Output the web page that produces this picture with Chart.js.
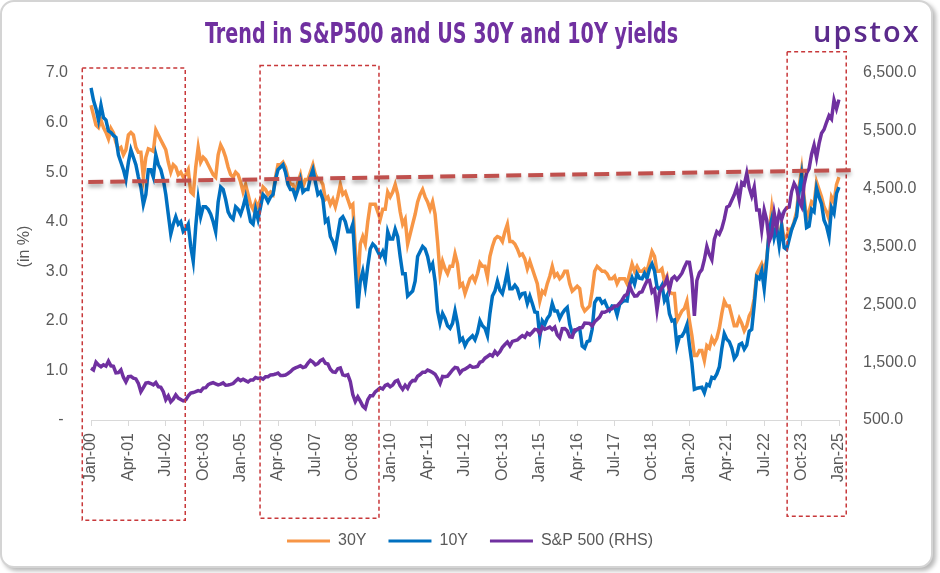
<!DOCTYPE html>
<html>
<head>
<meta charset="utf-8">
<script src="https://cdn.jsdelivr.net/npm/chart.js@4.4.1/dist/chart.umd.min.js"></script>
<style>
html,body{margin:0;padding:0;background:#ffffff;}
#wrap{position:relative;width:940px;height:573px;overflow:hidden;background:#fff;}
#frame{position:absolute;left:0;top:0;width:929px;height:564px;border:2px solid #d4d4d4;border-radius:14px;box-shadow:3px 3px 4px rgba(0,0,0,0.28);background:#fff;}
#c{position:absolute;left:0;top:0;}
#title{position:absolute;left:0;top:20px;width:883px;text-align:center;white-space:nowrap;}
#title span{display:inline-block;transform-origin:50% 50%;font-family:"Liberation Sans Narrow","DejaVu Sans Condensed","DejaVu Sans",sans-serif;font-weight:bold;font-size:27.5px;line-height:27.5px;color:#7030A0;}
#logo{position:absolute;left:813px;top:11px;font-family:"Open Sans","Lato",sans-serif;font-weight:600;font-size:29px;letter-spacing:2px;color:#5B2A8C;white-space:nowrap;}
</style>
</head>
<body>
<div id="wrap">
  <div id="frame"></div>
  <canvas id="c" width="940" height="573"></canvas>
  <div id="title"><span id="titleText">Trend in S&amp;P500 and US 30Y and 10Y yields</span></div>
  <div id="logo">upstox</div>
</div>
<script>
// ---- categories (monthly, Jan-2000 .. Jan-2025) ----
const monthNames = ['Jan','Feb','Mar','Apr','May','Jun','Jul','Aug','Sep','Oct','Nov','Dec'];
const startYear = 2000, endYear = 2025;
const categories = [];
for (let y = startYear; y <= endYear; y++) {
  for (let m = 0; m < 12; m++) {
    if (y === endYear && m > 0) break;
    categories.push(monthNames[m] + '-' + String(y).slice(2));
  }
}

// ---- tick labels shown on x axis ----
const tickLabels = ['Jan-00','Apr-01','Jul-02','Oct-03','Jan-05','Apr-06','Jul-07','Oct-08','Jan-10','Apr-11',
  'Jul-12','Oct-13','Jan-15','Apr-16','Jul-17','Oct-18','Jan-20','Apr-21','Jul-22','Oct-23','Jan-25'];

// ---- series: US 30Y yield (%) ----
const y30 = [
 6.35,6.15,5.95,5.90,6.05,5.90,5.80,5.67,5.88,5.79,5.60,5.46,
 5.50,5.35,5.45,5.75,5.80,5.75,5.50,5.40,5.40,4.90,5.30,5.47,
 5.45,5.42,5.85,5.75,5.65,5.55,5.45,5.20,5.00,5.15,5.10,4.95,
 5.00,4.90,4.95,5.05,4.60,4.55,5.10,5.50,5.20,5.30,5.25,5.15,
 5.05,4.95,4.90,5.35,5.55,5.45,5.30,5.10,4.95,4.90,5.00,4.95,
 4.80,4.60,4.75,4.55,4.35,4.25,4.40,4.30,4.45,4.70,4.65,4.55,
 4.60,4.55,4.90,5.15,5.15,5.20,5.10,4.90,4.75,4.75,4.60,4.80,
 4.95,4.70,4.85,4.85,5.00,5.15,4.95,4.85,4.85,4.75,4.45,4.50,
 4.35,4.45,4.30,4.50,4.75,4.55,4.60,4.45,4.30,4.35,3.45,2.70,
 3.55,3.70,3.55,4.00,4.35,4.35,4.35,4.20,4.05,4.25,4.25,4.60,
 4.50,4.60,4.75,4.55,4.20,3.95,4.05,3.55,3.75,3.95,4.15,4.40,
 4.55,4.65,4.50,4.40,4.25,4.40,4.15,3.60,2.95,3.20,3.05,2.95,
 3.10,3.10,3.35,3.15,2.70,2.75,2.55,2.70,2.85,2.90,2.80,2.95,
 3.17,3.10,3.10,2.88,3.30,3.50,3.65,3.70,3.68,3.60,3.80,3.95,
 3.60,3.60,3.55,3.45,3.32,3.35,3.25,3.05,3.20,3.05,2.90,2.75,
 2.40,2.60,2.55,2.75,2.90,3.10,2.90,2.95,2.85,2.90,3.00,3.00,
 2.75,2.60,2.65,2.70,2.65,2.30,2.20,2.25,2.30,2.60,3.00,3.10,
 3.05,3.00,3.00,2.95,2.85,2.85,2.90,2.75,2.85,2.85,2.85,2.75,
 2.95,3.15,3.00,3.10,3.00,3.00,3.05,3.00,3.20,3.40,3.30,3.00,
 3.00,3.05,2.80,2.90,2.58,2.55,2.55,2.00,2.10,2.20,2.25,2.40,
 2.00,1.70,1.30,1.30,1.40,1.40,1.20,1.50,1.45,1.65,1.55,1.65,
 1.85,2.15,2.40,2.30,2.30,2.10,1.90,1.90,2.05,1.95,1.80,1.90,
 2.10,2.20,2.45,2.95,3.05,3.15,3.00,3.25,3.80,4.25,3.75,3.95,
 3.65,3.95,3.65,3.70,3.85,3.85,4.00,4.20,4.70,5.05,4.50,4.05,
 4.20,4.40,4.35,4.80,4.65,4.50,4.30,4.20,4.05,4.50,4.40,4.75,
 4.90
];

// ---- series: US 10Y yield (%) ----
const y10 = [
 6.70,6.45,6.28,6.05,6.35,6.10,6.05,5.83,5.80,5.74,5.70,5.35,
 5.20,5.05,4.85,5.20,5.45,5.30,5.15,4.90,4.70,4.35,4.55,5.05,
 5.05,4.90,5.35,5.15,5.05,4.85,4.55,4.15,3.75,3.95,4.10,3.95,
 4.00,3.80,3.85,3.95,3.50,3.20,3.90,4.45,4.10,4.30,4.30,4.25,
 4.15,4.00,3.80,4.40,4.70,4.65,4.45,4.20,4.10,4.05,4.30,4.25,
 4.15,4.30,4.50,4.25,4.00,3.95,4.25,4.05,4.30,4.55,4.50,4.40,
 4.50,4.55,4.85,5.05,5.10,5.15,5.00,4.75,4.65,4.65,4.50,4.65,
 4.85,4.60,4.65,4.65,4.90,5.05,4.80,4.55,4.60,4.45,4.00,4.05,
 3.70,3.60,3.45,3.75,4.05,4.10,4.00,3.80,3.80,3.95,3.10,2.25,
 2.80,3.00,2.70,3.10,3.45,3.55,3.50,3.40,3.30,3.40,3.25,3.80,
 3.65,3.65,3.85,3.70,3.30,2.95,2.95,2.50,2.55,2.60,2.80,3.30,
 3.40,3.50,3.45,3.30,3.05,3.15,2.80,2.20,1.95,2.15,2.05,1.90,
 1.85,1.95,2.20,1.95,1.60,1.65,1.50,1.60,1.65,1.70,1.62,1.76,
 2.00,1.90,1.85,1.70,2.15,2.50,2.60,2.80,2.62,2.55,2.75,3.00,
 2.65,2.65,2.72,2.65,2.48,2.55,2.56,2.35,2.50,2.35,2.18,2.17,
 1.68,2.00,1.93,2.05,2.12,2.35,2.20,2.20,2.05,2.15,2.22,2.27,
 1.93,1.75,1.78,1.83,1.85,1.49,1.45,1.58,1.60,1.83,2.37,2.45,
 2.45,2.36,2.40,2.28,2.21,2.30,2.29,2.12,2.33,2.38,2.41,2.40,
 2.72,2.87,2.74,2.95,2.86,2.85,2.96,2.86,3.05,3.15,3.01,2.69,
 2.63,2.72,2.41,2.51,2.14,2.00,2.02,1.50,1.68,1.69,1.78,1.92,
 1.51,1.15,0.62,0.64,0.65,0.66,0.55,0.72,0.69,0.86,0.84,0.93,
 1.07,1.44,1.74,1.63,1.58,1.45,1.24,1.31,1.52,1.55,1.43,1.51,
 1.79,1.83,2.32,2.89,2.85,3.01,2.65,3.19,3.83,4.05,3.68,3.88,
 3.52,3.92,3.48,3.44,3.64,3.84,3.97,4.11,4.59,4.93,4.37,3.88,
 3.91,4.25,4.20,4.68,4.50,4.36,4.03,3.91,3.70,4.28,4.17,4.57,
 4.70
];

// ---- series: S&P 500 index level (RHS) ----
const spx = [
 1394,1366,1499,1452,1421,1455,1431,1518,1437,1429,1315,1320,
 1366,1240,1160,1249,1256,1224,1211,1134,990,1060,1139,1148,
 1130,1107,1147,1077,1067,990,850,916,815,860,936,880,
 856,830,848,917,964,975,990,1008,996,1051,1058,1112,
 1131,1145,1126,1107,1121,1141,1102,1104,1115,1130,1174,1212,
 1181,1204,1181,1157,1192,1191,1234,1220,1229,1207,1249,1248,
 1280,1281,1295,1311,1270,1270,1277,1304,1336,1378,1401,1418,
 1438,1407,1421,1482,1531,1503,1455,1474,1527,1549,1481,1468,
 1379,1331,1323,1386,1400,1280,1267,1283,1165,940,820,900,
 826,740,700,850,919,919,987,1021,1057,1036,1096,1115,
 1074,1104,1169,1187,1089,1031,1102,1049,1141,1183,1181,1258,
 1286,1327,1326,1364,1345,1321,1292,1219,1131,1253,1247,1258,
 1312,1366,1408,1398,1310,1362,1379,1407,1441,1412,1416,1426,
 1498,1515,1569,1598,1631,1606,1686,1633,1682,1757,1806,1848,
 1783,1859,1872,1884,1924,1960,1931,2003,1972,2018,2068,2059,
 1995,2105,2068,2086,2107,2063,2104,1972,1920,2079,2080,2044,
 1940,1932,2060,2065,2097,2099,2174,2171,2168,2126,2199,2239,
 2279,2364,2363,2384,2412,2423,2470,2472,2519,2575,2648,2674,
 2824,2714,2641,2648,2705,2718,2816,2902,2914,2712,2760,2400,
 2704,2784,2834,2946,2752,2942,2980,2926,2977,3038,3141,3231,
 3226,2954,2300,2912,3044,3100,3271,3500,3363,3270,3622,3756,
 3714,3811,3973,4181,4204,4298,4395,4523,4308,4605,4567,4766,
 4516,4374,4530,4132,4132,3785,4130,3955,3586,3700,4080,3840,
 4077,3970,4109,4169,4180,4450,4589,4508,4288,4194,4568,4770,
 4846,5096,5254,5036,5278,5460,5522,5648,5762,5705,6032,5882,
 6040
];

// ---- y axis ranges / ticks ----
const leftMin = 0, leftMax = 7, leftStep = 1;
const rightMin = 500, rightMax = 6500, rightStep = 1000;

// ---- annotations (in data units: month index, left-axis %) ----
const trendLine = {x0: -1.1, y0: 4.80, x1: 304.7, y1: 5.04};
const highlightBoxes = [
  {x0: -3.5, x1: 37.8, yTop: 7.10, yBottom: -2.02},
  {x0: 67.8, x1: 115.5, yTop: 7.15, yBottom: -1.98},
  {x0: 279.2, x1: 302.9, yTop: 7.43, yBottom: -1.94}
];

// fit the title to its width in the reference (condensed face)
(function () {
  const s = document.getElementById('titleText');
  const w = s.getBoundingClientRect().width;
  if (w > 0) s.style.transform = 'scaleX(' + (473 / w) + ')';
})();

const annotationPlugin = {
  id: 'annotations',
  afterDatasetsDraw(chart) {
    const ctx = chart.ctx, xs = chart.scales.x, ys = chart.scales.y;
    ctx.save();
    ctx.strokeStyle = '#C8383A';
    ctx.lineWidth = 1.5;
    ctx.setLineDash([4, 3]);
    highlightBoxes.forEach(b => {
      const l = xs.getPixelForValue(b.x0), r = xs.getPixelForValue(b.x1);
      const t = ys.getPixelForValue(b.yTop), btm = ys.getPixelForValue(b.yBottom);
      ctx.strokeRect(l, t, r - l, btm - t);
    });
    ctx.restore();
    ctx.save();
    ctx.strokeStyle = '#C0504D';
    ctx.lineWidth = 4;
    ctx.setLineDash([15, 7]);
    ctx.shadowColor = 'rgba(0,0,0,0.35)';
    ctx.shadowBlur = 4;
    ctx.shadowOffsetY = 3;
    ctx.beginPath();
    ctx.moveTo(xs.getPixelForValue(trendLine.x0), ys.getPixelForValue(trendLine.y0));
    ctx.lineTo(xs.getPixelForValue(trendLine.x1), ys.getPixelForValue(trendLine.y1));
    ctx.stroke();
    ctx.restore();
  }
};

Chart.defaults.font.family = '"Liberation Sans", Arial, sans-serif';
Chart.defaults.font.size = 16;
Chart.defaults.color = '#595959';

new Chart(document.getElementById('c'), {
  type: 'line',
  data: {
    labels: categories,
    datasets: [
      {label: '30Y', data: y30, borderColor: '#F79646', backgroundColor: '#F79646', borderWidth: 3.5, pointRadius: 0, yAxisID: 'y', order: 3},
      {label: '10Y', data: y10, borderColor: '#0070C0', backgroundColor: '#0070C0', borderWidth: 3.5, pointRadius: 0, yAxisID: 'y', order: 2},
      {label: 'S&P 500 (RHS)', data: spx, borderColor: '#7030A0', backgroundColor: '#7030A0', borderWidth: 3.5, pointRadius: 0, yAxisID: 'y1', order: 1}
    ]
  },
  options: {
    responsive: false,
    animation: false,
    devicePixelRatio: 1,
    layout: {padding: {left: 0, right: 0, top: 73, bottom: 14}},
    plugins: {
      tooltip: {enabled: false},
      title: {display: false},
      legend: {
        position: 'bottom',
        labels: {
          boxWidth: 43, boxHeight: 3, padding: 22, color: '#595959',
          font: {size: 16},
          generateLabels(chart) {
            const items = Chart.defaults.plugins.legend.labels.generateLabels(chart);
            items.forEach(it => { it.lineWidth = 0; it.fillStyle = it.strokeStyle; });
            return items.sort((a, b) => a.datasetIndex - b.datasetIndex);
          }
        }
      }
    },
    scales: {
      x: {
        type: 'category',
        grid: {display: true, drawOnChartArea: false, drawTicks: true, tickLength: 6, color: '#d9d9d9'},
        border: {display: true, color: '#d9d9d9', width: 1},
        ticks: {
          autoSkip: false, maxRotation: 90, minRotation: 90, padding: 7,
          color: '#595959', font: {size: 16},
          callback(v, i) { const l = categories[i]; return tickLabels.includes(l) ? l : null; }
        },
        afterFit(s) { s.height = 91; }
      },
      y: {
        position: 'left', min: leftMin, max: leftMax,
        grid: {display: false, drawTicks: false},
        border: {display: false},
        ticks: {stepSize: leftStep, padding: 23, color: '#595959', font: {size: 16},
          callback(v) { return v === 0 ? '- ' : v.toFixed(1); }},
        title: {display: true, text: '(in %)', color: '#595959', font: {size: 16}, padding: {top: 15, bottom: 0}},
        afterFit(s) { s.width = 91; }
      },
      y1: {
        position: 'right', min: rightMin, max: rightMax,
        grid: {display: false, drawTicks: false},
        border: {display: false},
        ticks: {stepSize: rightStep, padding: 24, color: '#595959', font: {size: 16},
          callback(v) { return v.toLocaleString('en-US', {minimumFractionDigits: 1, maximumFractionDigits: 1}); }},
        afterFit(s) { s.width = 101; }
      }
    }
  },
  plugins: [annotationPlugin]
});
</script>
</body>
</html>
